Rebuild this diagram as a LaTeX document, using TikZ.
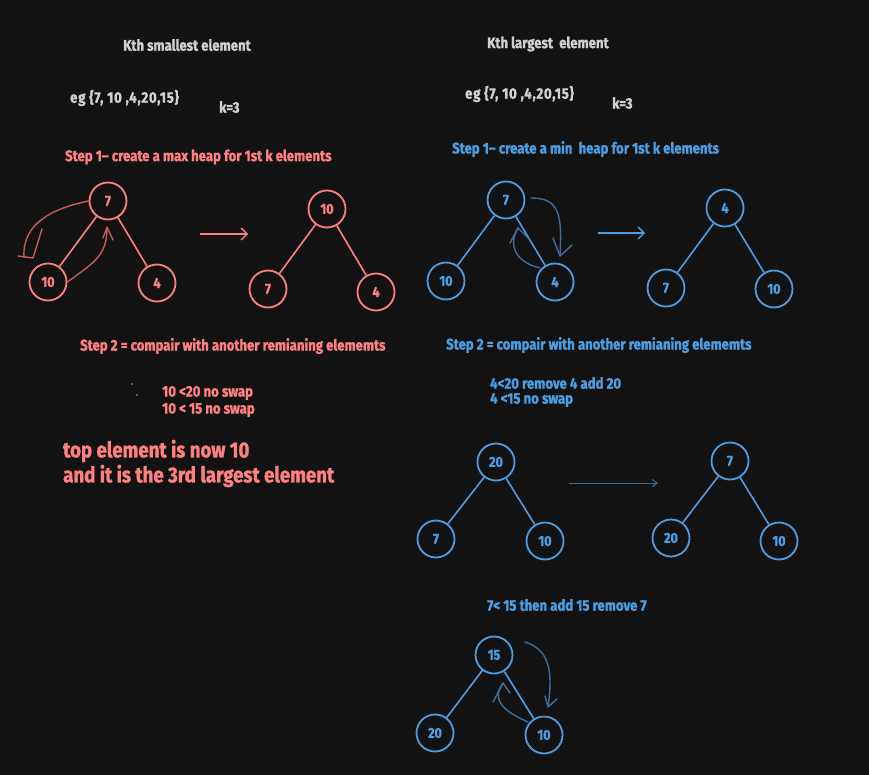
\documentclass[tikz,border=0pt]{standalone}
\usepackage{fontspec}
\setmainfont{Fira Sans}[FakeStretch=0.86, BoldFeatures={FakeBold=1.3}]
\usetikzlibrary{arrows.meta}
\definecolor{bg}{HTML}{121212}
\definecolor{rd}{HTML}{FF8080}
\definecolor{rdd}{HTML}{C65B5B}
\definecolor{bl}{HTML}{4A9FE3}
\definecolor{bld}{HTML}{3E6E9E}
\definecolor{gr}{HTML}{D0D0D0}
\tikzset{
  hnode/.style={circle,draw,line width=1.8pt,minimum size=37pt,inner sep=0pt,font=\bfseries\fontsize{14.5}{16}\selectfont},
  rnode/.style={hnode,draw=rd,text=rd},
  bnode/.style={hnode,draw=bl,text=bl},
  redge/.style={draw=rd,line width=1.6pt},
  bedge/.style={draw=bl,line width=1.6pt},
  txt/.style={anchor=west,inner sep=0pt,font=\bfseries\fontsize{15.3}{17}\selectfont},
  egtxt/.style={txt,font=\bfseries\fontsize{15.3}{17}\selectfont\addfontfeature{LetterSpace=5}},
  big/.style={anchor=west,inner sep=0pt,font=\bfseries\fontsize{21.7}{25}\selectfont,align=left},
  rcurve/.style={draw=rdd,line width=1.4pt,line cap=round,line join=round},
  bcurve/.style={draw=bld,line width=1.4pt,line cap=round,line join=round},
  rarrow/.style={draw=rd,line width=1.3pt,-{Straight Barb[length=6pt,width=12pt]}},
  barrow/.style={draw=bl,line width=1.3pt,-{Straight Barb[length=6pt,width=12pt]}},
  barrowthin/.style={draw=bld,line width=1pt,-{Straight Barb[length=5pt,width=7pt]}},
}
\begin{document}
\begin{tikzpicture}[x=1pt,y=-1pt]
\fill[bg] (0,0) rectangle (869,775);
\useasboundingbox (0,0) rectangle (869,775);

% headers
\node[txt,text=gr] (h1) at (123,45) {Kth smallest element};
\node[egtxt,text=gr] (e1) at (70,98) {eg \{7, 10 ,4,20,15\}};
\node[txt,text=gr] (k1) at (219,107) {k=3};
\node[txt,text=gr] (h2) at (487,44) {Kth largest\ \ element};
\node[egtxt,text=gr] (e2) at (465,94) {eg \{7, 10 ,4,20,15\}};
\node[txt,text=gr] (k2) at (612,103) {k=3};

% step 1 texts
\node[txt,text=rd] (s1l) at (65,157) {Step 1– create a max heap for 1st k elements};
\node[txt,text=bl] (s1r) at (452,149) {Step 1– create a min\ \ heap for 1st k elements};

% left tree 1
\node[rnode] (a7) at (108,201) {7};
\node[rnode] (a10) at (48,282) {10};
\node[rnode] (a4) at (157,283) {4};
\draw[redge] (a7) -- (a10);
\draw[redge] (a7) -- (a4);
\draw[rcurve] (a7.west) .. controls (55,208) and (22,222) .. (24,257);
\draw[rcurve] (42,229) -- (33,258) -- (18,256);
\draw[rcurve] (a10.east) .. controls (95,262) and (107,255) .. (107,228);
\draw[rcurve] (103,238) -- (107,227) -- (113,240);
\coordinate (ra1) at (200,234);
\coordinate (ra2) at (248,234);
\draw[rarrow] (ra1) -- (ra2);

% left tree 2
\node[rnode] (b10) at (327,209) {10};
\node[rnode] (b7) at (268,289) {7};
\node[rnode] (b4) at (376,292) {4};
\draw[redge] (b10) -- (b7);
\draw[redge] (b10) -- (b4);

% right tree 1
\node[bnode] (c7) at (506,200) {7};
\node[bnode] (c10) at (446,281) {10};
\node[bnode] (c4) at (555,282) {4};
\draw[bedge] (c7) -- (c10);
\draw[bedge] (c7) -- (c4);
\draw[bcurve] (531,198) .. controls (560,198) and (562,215) .. (560,256);
\draw[bcurve] (553,238) -- (560,256) -- (572,245);
\draw[bcurve] (540,268) .. controls (515,262) and (508,245) .. (518,228);
\draw[bcurve] (510,243) -- (518,228) -- (530,240);
\coordinate (ba1) at (598,233);
\coordinate (ba2) at (645,233);
\draw[barrow] (ba1) -- (ba2);

% right tree 2
\node[bnode] (d4) at (725,208) {4};
\node[bnode] (d7) at (666,288) {7};
\node[bnode] (d10) at (774,289) {10};
\draw[bedge] (d4) -- (d7);
\draw[bedge] (d4) -- (d10);

% step 2 texts
\node[txt,text=rd] (s2l) at (80,346) {Step 2 = compair with another remianing elememts};
\node[txt,text=bl] (s2r) at (446,345) {Step 2 = compair with another remianing elememts};

\fill[rd] (132,384) circle (0.9pt);
\fill[rd] (137,395) circle (0.9pt);
\node[txt,text=rd] (c1) at (162,393) {10 <20 no swap};
\node[txt,text=rd] (c2) at (162,410) {10 < 15 no swap};
\node[big,text=rd] (top1) at (63,451) {top element is now 10};
\node[big,text=rd] (top2) at (63,476) {and it is the 3rd largest element};

\node[txt,text=bl] (c3) at (490,383) {4<20 remove 4 add 20};
\node[txt,text=bl] (c4) at (490,400) {4 <15 no swap};

% right tree 3
\node[bnode] (e20) at (496,462) {20};
\node[bnode] (e7) at (436,539) {7};
\node[bnode] (e10) at (545,541) {10};
\draw[bedge] (e20) -- (e7);
\draw[bedge] (e20) -- (e10);
\coordinate (ta1) at (569,483);
\coordinate (ta2) at (658,483);
\draw[barrowthin] (ta1) -- (ta2);

% right tree 4
\node[bnode] (f7) at (730,461) {7};
\node[bnode] (f20) at (671,538) {20};
\node[bnode] (f10) at (779,541) {10};
\draw[bedge] (f7) -- (f20);
\draw[bedge] (f7) -- (f10);

\node[txt,text=bl] (c5) at (487,605) {7< 15 then add 15 remove 7};

% right tree 5
\node[bnode] (g15) at (494,655) {15};
\node[bnode] (g20) at (435,733) {20};
\node[bnode] (g10) at (544,735) {10};
\draw[bedge] (g15) -- (g20);
\draw[bedge] (g15) -- (g10);
\draw[bcurve] (525,642) .. controls (550,650) and (553,672) .. (548,707);
\draw[bcurve] (545,696) -- (548,707) -- (557,699);
\draw[bcurve] (528,722) .. controls (505,712) and (490,700) .. (503,683);
\draw[bcurve] (493,702) -- (503,683) -- (510,693);
\end{tikzpicture}
\end{document}
